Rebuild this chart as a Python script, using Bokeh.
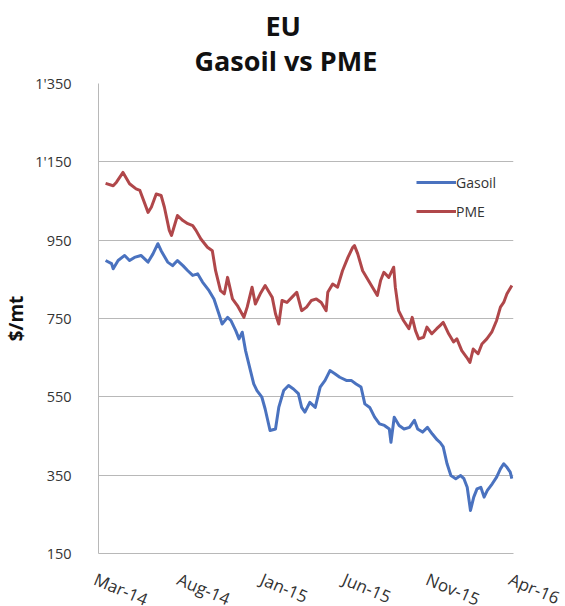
import pandas as pd
from bokeh.plotting import figure
from bokeh.models import Range1d, FixedTicker, Title
from bokeh.embed import file_html
from bokeh.resources import INLINE

# EU price series, $/mt
pme_dates = [
    "2014-03-14", "2014-03-28", "2014-04-03", "2014-04-15", "2014-04-27", "2014-05-09", "2014-05-16", "2014-05-31", "2014-06-06", "2014-06-15",
    "2014-06-24", "2014-06-30", "2014-07-09", "2014-07-13", "2014-07-24", "2014-08-03", "2014-08-12", "2014-08-21", "2014-08-27", "2014-09-05",
    "2014-09-17", "2014-09-26", "2014-10-02", "2014-10-11", "2014-10-18", "2014-10-24", "2014-11-02", "2014-11-11", "2014-11-23", "2014-11-29",
    "2014-12-08", "2014-12-14", "2014-12-23", "2015-01-01", "2015-01-10", "2015-01-14", "2015-01-20", "2015-01-26", "2015-02-01", "2015-02-10",
    "2015-02-19", "2015-02-28", "2015-03-09", "2015-03-18", "2015-03-27", "2015-04-05", "2015-04-14", "2015-04-23", "2015-04-26", "2015-05-05",
    "2015-05-14", "2015-05-23", "2015-06-02", "2015-06-11", "2015-06-14", "2015-06-20", "2015-06-29", "2015-07-08", "2015-07-17", "2015-07-26",
    "2015-08-01", "2015-08-07", "2015-08-16", "2015-08-25", "2015-08-28", "2015-09-03", "2015-09-12", "2015-09-22", "2015-09-28", "2015-10-04",
    "2015-10-10", "2015-10-19", "2015-10-25", "2015-11-03", "2015-11-12", "2015-11-18", "2015-11-24", "2015-12-04", "2015-12-13", "2015-12-19",
    "2015-12-28", "2016-01-06", "2016-01-12", "2016-01-18", "2016-01-27", "2016-02-03", "2016-02-12", "2016-02-21", "2016-03-01", "2016-03-08",
    "2016-03-14", "2016-03-20", "2016-03-29",
]
pme_values = [
    1095, 1089, 1098, 1123, 1094, 1081, 1077, 1021, 1034, 1068,
    1064, 1034, 975, 962, 1013, 1000, 992, 987, 975, 953,
    932, 923, 872, 821, 813, 855, 800, 783, 753, 779,
    830, 787, 813, 834, 813, 804, 762, 736, 796, 791,
    804, 817, 770, 779, 796, 800, 791, 770, 817, 838,
    830, 872, 906, 932, 936, 915, 872, 851, 830, 809,
    847, 868, 855, 881, 830, 770, 745, 724, 753, 719,
    698, 702, 728, 711, 724, 732, 740, 711, 690, 698,
    668, 651, 638, 672, 660, 685, 698, 715, 745, 779,
    791, 813, 834,
]

gasoil_dates = [
    "2014-03-14", "2014-03-25", "2014-03-28", "2014-04-06", "2014-04-18", "2014-04-27", "2014-05-06", "2014-05-18", "2014-05-31", "2014-06-09",
    "2014-06-18", "2014-06-24", "2014-07-06", "2014-07-15", "2014-07-24", "2014-08-03", "2014-08-12", "2014-08-21", "2014-08-30", "2014-09-08",
    "2014-09-20", "2014-09-29", "2014-10-08", "2014-10-14", "2014-10-24", "2014-10-30", "2014-11-08", "2014-11-14", "2014-11-20", "2014-11-26",
    "2014-12-05", "2014-12-11", "2014-12-17", "2014-12-26", "2015-01-01", "2015-01-10", "2015-01-20", "2015-01-26", "2015-02-04", "2015-02-13",
    "2015-02-22", "2015-03-03", "2015-03-09", "2015-03-15", "2015-03-24", "2015-04-03", "2015-04-12", "2015-04-21", "2015-04-30", "2015-05-09",
    "2015-05-18", "2015-05-30", "2015-06-08", "2015-06-17", "2015-06-26", "2015-07-03", "2015-07-12", "2015-07-21", "2015-07-30", "2015-08-08",
    "2015-08-17", "2015-08-20", "2015-08-26", "2015-09-04", "2015-09-13", "2015-09-23", "2015-10-02", "2015-10-08", "2015-10-17", "2015-10-26",
    "2015-11-04", "2015-11-13", "2015-11-18", "2015-11-24", "2015-12-01", "2015-12-08", "2015-12-17", "2015-12-26", "2016-01-01", "2016-01-07",
    "2016-01-13", "2016-01-19", "2016-01-25", "2016-02-01", "2016-02-07", "2016-02-13", "2016-02-22", "2016-03-01", "2016-03-08", "2016-03-14",
    "2016-03-20", "2016-03-26", "2016-03-29",
]
gasoil_values = [
    898, 890, 877, 898, 911, 898, 906, 911, 894, 915,
    941, 923, 894, 885, 898, 885, 872, 860, 864, 843,
    821, 800, 762, 736, 753, 745, 719, 698, 715, 668,
    617, 583, 566, 549, 519, 464, 468, 523, 566, 579,
    570, 558, 523, 511, 536, 523, 575, 592, 617, 609,
    600, 592, 592, 583, 575, 532, 523, 498, 481, 477,
    468, 434, 498, 477, 468, 472, 490, 468, 460, 472,
    455, 440, 434, 422, 379, 349, 341, 349, 341, 319,
    260, 294, 315, 319, 294, 311, 328, 345, 366, 379,
    370, 358, 341,
]

x_tick_dates = ["2014-03-01", "2014-08-01", "2015-01-01", "2015-06-01", "2015-11-01", "2016-04-01"]
x_tick_labels = ["Mar-14", "Aug-14", "Jan-15", "Jun-15", "Nov-15", "Apr-16"]
y_ticks = [150, 350, 550, 750, 950, 1150, 1350]
y_tick_labels = {1150: "1'150", 1350: "1'350"}

FONT = "Open Sans"
GRID = "#b8b8b8"
TEXT = "#333333"


def to_ms(s):
    return pd.Timestamp(s).value // 10**6


p = figure(
    width=565, height=606,
    x_axis_type="datetime",
    x_range=Range1d(to_ms("2014-03-01"), to_ms("2016-04-01")),
    y_range=Range1d(150, 1350),
    output_backend="svg", toolbar_location=None,
    min_border_left=95, min_border_right=52, min_border_top=83, min_border_bottom=53,
    background_fill_color="white", border_fill_color="white",
)
p.outline_line_color = None

# two-line heading; the first title sits nearest the frame
t_sub = Title(text="Gasoil vs PME", align="left", offset=96, standoff=10,
              text_font=FONT, text_font_size="27px", text_font_style="bold", text_color="#111111")
t_main = Title(text="EU", align="left", offset=167, standoff=-18,
               text_font=FONT, text_font_size="27px", text_font_style="bold", text_color="#111111")
p.add_layout(t_sub, "above")
p.add_layout(t_main, "above")

p.line(pd.to_datetime(gasoil_dates), gasoil_values, color="#4a72bf", line_width=3,
       line_join="round", legend_label="Gasoil")
p.line(pd.to_datetime(pme_dates), pme_values, color="#b0474a", line_width=3,
       line_join="round", legend_label="PME")

# y axis
p.yaxis.ticker = FixedTicker(ticks=y_ticks)
p.yaxis.major_label_overrides = y_tick_labels
p.yaxis.axis_label = "$/mt"
p.yaxis.axis_label_text_font = FONT
p.yaxis.axis_label_text_font_size = "19px"
p.yaxis.axis_label_text_font_style = "bold"
p.yaxis.axis_label_text_color = "#111111"
p.yaxis.axis_label_standoff = 3
p.yaxis.major_label_standoff = 21
p.yaxis.major_label_text_font_size = "14.5px"

# x axis: slanted month labels; the trailing empty line with a negative
# line height keeps the label box short so the labels can sit lower
x_ticks = [to_ms(d) for d in x_tick_dates]
p.xaxis.ticker = FixedTicker(ticks=x_ticks)
p.xaxis.major_label_overrides = {t: lab + "\n" for t, lab in zip(x_ticks, x_tick_labels)}
p.xaxis.major_label_orientation = -0.4
p.xaxis.major_label_standoff = 10
p.xaxis.major_label_text_line_height = -0.8
p.xaxis.major_label_text_font_size = "17px"

for ax in (p.xaxis, p.yaxis):
    ax.major_label_text_font = FONT
    ax.major_label_text_color = TEXT
    ax.axis_line_color = GRID
    ax.major_tick_line_color = None
    ax.minor_tick_line_color = None

p.xgrid.grid_line_color = None
p.ygrid.grid_line_color = GRID
p.ygrid.ticker = FixedTicker(ticks=y_ticks)

# legend inside the frame, upper right
lg = p.legend[0]
lg.location = (318, 332)
lg.padding = 0
lg.margin = 0
lg.spacing = 9
lg.glyph_width = 40
lg.glyph_height = 20
lg.label_height = 20
lg.label_standoff = 0
lg.border_line_color = None
lg.background_fill_alpha = 0
lg.label_text_font = FONT
lg.label_text_font_size = "14px"
lg.label_text_color = TEXT

open("out.html", "w").write(file_html(p, INLINE))
